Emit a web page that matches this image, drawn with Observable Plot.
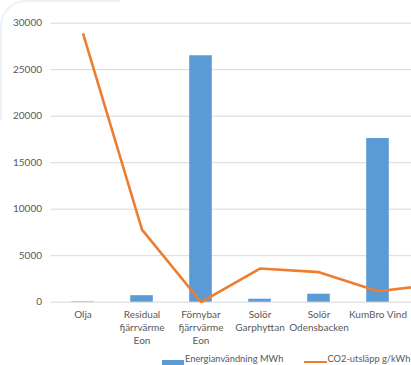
<!DOCTYPE html>
<html>
<head>
<meta charset="utf-8">
<script src="https://cdn.jsdelivr.net/npm/d3@7"></script>
<script src="https://cdn.jsdelivr.net/npm/@observablehq/plot@0.6"></script>
<style>
  html, body { margin: 0; padding: 0; background: #fff; overflow: hidden; }
  #frame { position: relative; width: 411px; height: 365px; overflow: hidden; background: #fff; }
  #corner { position: absolute; left: 0; top: 0; width: 120px; height: 120px;
            border-top: 2px solid #ebf1f8; border-left: 2px solid #ebf1f8;
            border-top-left-radius: 26px; box-sizing: border-box; }
  #chart { position: absolute; left: 0; top: 0; }
  .legend { position: absolute; top: 353px; left: 0; width: 480px; height: 14px;
            font: 9.3px Lato, "Open Sans", sans-serif; color: #595959; }
  .legend span { position: absolute; white-space: nowrap; }
</style>
</head>
<body>
<div id="frame">
  <div id="corner"></div>
  <div id="chart"></div>
  <div class="legend">
    <span style="left:161.5px; top:7px; width:22px; height:7px; background:#5b9bd5;"></span>
    <span style="left:185px; top:0px;">Energianvändning MWh</span>
    <span style="left:304px; top:7.5px; width:23px; height:2.5px; background:#ed7d31;"></span>
    <span style="left:327.5px; top:0px;">CO2-utsläpp g/kWh</span>
  </div>
</div>
<script>
// Energy sources (the last one continues past the right edge of the view)
const categories = ["Olja", "Residual fjärrvärme Eon", "Förnybar fjärrvärme Eon", "Solör Garphyttan", "Solör Odensbacken", "KumBro Vind", "Övrigt"];
const categoryLabels = ["Olja", "Residual\nfjärrvärme\nEon", "Förnybar\nfjärrvärme\nEon", "Solör\nGarphyttan", "Solör\nOdensbacken", "KumBro Vind", ""];
// Energianvändning MWh
const energyMWh = [40, 700, 26500, 320, 860, 17600, null];
// CO2-utsläpp g/kWh
const co2 = [28900, 7800, 20, 3620, 3230, 1180, 1930];
const yTicks = [0, 5000, 10000, 15000, 20000, 25000, 30000];

const rows = categories.map((c, i) => ({category: c, energy: energyMWh[i], co2: co2[i]}));
const labelOf = new Map(categories.map((c, i) => [c, categoryLabels[i]]));

const textColor = "#595959";
const font = "Lato, 'Open Sans', sans-serif";

const chart = Plot.plot({
  width: 480,
  height: 365,
  marginLeft: 50.5,
  marginRight: 11.6,
  marginTop: 22.7,
  marginBottom: 63.3,
  style: {fontFamily: font, fontSize: "10px", color: textColor, background: "transparent", maxWidth: "none"},
  x: {type: "band", domain: categories, padding: 0},
  y: {domain: [0, 30000]},
  marks: [
    Plot.ruleY(yTicks, {stroke: "#d9d9d9", strokeWidth: 1}),
    Plot.barY(rows.filter(d => d.energy != null), {x: "category", y: "energy", fill: "#5b9bd5", insetLeft: 18.2, insetRight: 18.2}),
    Plot.lineY(rows, {x: "category", y: "co2", stroke: "#ed7d31", strokeWidth: 2.6, strokeLinejoin: "miter", strokeLinecap: "butt"}),
    Plot.axisY({ticks: yTicks, tickSize: 0, tickPadding: 9, tickFormat: d => String(d), fill: textColor, fontSize: 10}),
    Plot.axisX({tickSize: 0, tickPadding: 7, tickFormat: d => labelOf.get(d), fill: textColor, fontSize: 10, lineHeight: 1.28, label: null})
  ]
});
document.getElementById("chart").appendChild(chart);
</script>
</body>
</html>
